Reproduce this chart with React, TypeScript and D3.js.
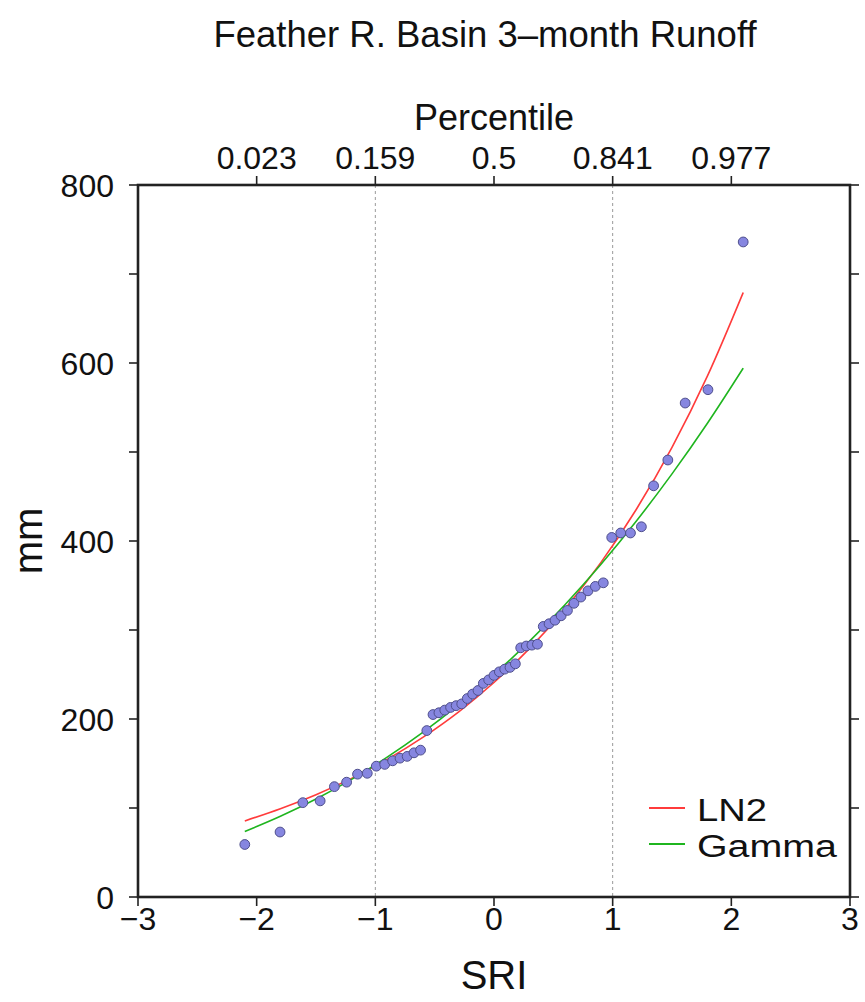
import React from "react";
import * as d3 from "d3";

// ---- data ----
const sri: number[] = [
  -2.1, -1.803, -1.611, -1.465, -1.345, -1.242, -1.15, -1.068, -0.992, -0.921,
  -0.854, -0.792, -0.732, -0.674, -0.619, -0.566, -0.514, -0.464, -0.415, -0.366,
  -0.319, -0.272, -0.225, -0.18, -0.135, -0.09, -0.045, 0, 0.045, 0.09,
  0.135, 0.18, 0.225, 0.272, 0.319, 0.366, 0.415, 0.464, 0.514, 0.566,
  0.619, 0.674, 0.732, 0.792, 0.854, 0.921, 0.992, 1.068, 1.15, 1.242,
  1.345, 1.465, 1.611, 1.803, 2.1,
];
const runoff: number[] = [
  59, 73, 106, 108, 124, 129, 138, 139, 147, 149,
  153, 156, 158, 162, 165, 187, 205, 207, 210, 213,
  215, 217, 223, 228, 232, 240, 244, 249, 253, 256,
  258, 262, 280, 282, 283, 284, 304, 307, 311, 316,
  322, 330, 337, 344, 349, 353, 404, 409, 409, 416,
  462, 491, 555, 570, 736,
];
const curveSri: number[] = [-2.1, -1.8, -1.5, -1.2, -0.9, -0.6, -0.3, 0, 0.3, 0.6, 0.9, 1.2, 1.5, 1.8, 2.1];
const ln2Values: number[] = [85.5, 99.2, 115.0, 133.3, 154.6, 179.3, 207.8, 241.0, 279.4, 324.0, 375.7, 435.7, 505.2, 585.8, 679.2];
const gammaValues: number[] = [73.6, 90.7, 110.1, 132.2, 157.1, 184.9, 215.8, 249.9, 287.5, 328.7, 373.6, 422.5, 475.4, 532.6, 594.2];

const xTicks: number[] = [-3, -2, -1, 0, 1, 2, 3];
const xTickLabels: string[] = ["\u22123", "\u22122", "\u22121", "0", "1", "2", "3"];
const yTicksMajor: number[] = [0, 200, 400, 600, 800];
const yTicksAll: number[] = [0, 100, 200, 300, 400, 500, 600, 700, 800];
const pctTicks: number[] = [-2, -1, 0, 1, 2];
const pctLabels: string[] = ["0.023", "0.159", "0.5", "0.841", "0.977"];
const gridLines: number[] = [-1, 1];

const seriesNames: string[] = ["LN2", "Gamma"];
const seriesColors: string[] = ["#ff3b3b", "#1fb51f"];
const legendWidths: number[] = [70, 140];

const FONT = "'Liberation Sans', Arial, Helvetica, sans-serif";

export default function App() {
  const W = 865, H = 1002;
  const left = 138, right = 850, top = 185, bottom = 897;
  const x = d3.scaleLinear().domain([-3, 3]).range([left, right]);
  const y = d3.scaleLinear().domain([0, 800]).range([bottom, top]);
  const tick = 9;

  const line = d3
    .line<[number, number]>()
    .x((d) => x(d[0]))
    .y((d) => y(d[1]))
    .curve(d3.curveMonotoneX);

  const ln2Path = line(curveSri.map((s, i) => [s, ln2Values[i]] as [number, number])) || "";
  const gammaPath = line(curveSri.map((s, i) => [s, gammaValues[i]] as [number, number])) || "";
  const paths = [ln2Path, gammaPath];

  return (
    <svg
      width={W}
      height={H}
      style={{ position: "absolute", left: 0, top: 0, background: "#fff" }}
      fontFamily={FONT}
    >
      <rect x={0} y={0} width={W} height={H} fill="#fff" />
      {/* title */}
      <text x={485} y={47} fontSize={36.5} textAnchor="middle" fill="#111">
        Feather R. Basin 3{"\u2013"}month Runoff
      </text>
      {/* top axis title */}
      <text x={494} y={130} fontSize={36} textAnchor="middle" fill="#111">
        Percentile
      </text>

      {/* dashed grid */}
      {gridLines.map((g) => (
        <line
          key={"g" + g}
          x1={x(g)}
          x2={x(g)}
          y1={top}
          y2={bottom}
          stroke="#9a9a9a"
          strokeWidth={1}
          strokeDasharray="3,3"
        />
      ))}

      {/* curves */}
      {paths.map((p, i) => (
        <path key={"c" + i} d={p} fill="none" stroke={seriesColors[i]} strokeWidth={1.6} />
      ))}

      {/* points */}
      {sri.map((s, i) => (
        <circle
          key={"p" + i}
          cx={x(s)}
          cy={y(runoff[i])}
          r={4.9}
          fill="#8686e0"
          stroke="#4f4f8c"
          strokeWidth={1}
        />
      ))}

      {/* frame */}
      <rect
        x={left}
        y={top}
        width={right - left}
        height={bottom - top}
        fill="none"
        stroke="#222"
        strokeWidth={2.6}
      />

      {/* bottom axis */}
      {xTicks.map((t, i) => (
        <g key={"xb" + t}>
          <line x1={x(t)} x2={x(t)} y1={bottom} y2={bottom + tick} stroke="#222" strokeWidth={1.6} />
          <text x={x(t)} y={930} fontSize={32} textAnchor="middle" fill="#111">
            {xTickLabels[i]}
          </text>
        </g>
      ))}
      <text x={494} y={989} fontSize={40} textAnchor="middle" fill="#111">
        SRI
      </text>

      {/* top axis */}
      {pctTicks.map((t, i) => (
        <g key={"xt" + t}>
          <line x1={x(t)} x2={x(t)} y1={top} y2={top - tick} stroke="#222" strokeWidth={1.6} />
          <text x={x(t)} y={169} fontSize={32} textAnchor="middle" fill="#111">
            {pctLabels[i]}
          </text>
        </g>
      ))}

      {/* left / right axes */}
      {yTicksAll.map((t) => (
        <g key={"yt" + t}>
          <line x1={left - tick} x2={left} y1={y(t)} y2={y(t)} stroke="#222" strokeWidth={1.6} />
          <line x1={right} x2={right + tick} y1={y(t)} y2={y(t)} stroke="#222" strokeWidth={1.6} />
        </g>
      ))}
      {yTicksMajor.map((t) => (
        <text key={"yl" + t} x={114} y={y(t) + 11.5} fontSize={32} textAnchor="end" fill="#111">
          {t}
        </text>
      ))}
      <text
        transform={`translate(42, ${(top + bottom) / 2}) rotate(-90)`}
        fontSize={40}
        textAnchor="middle"
        fill="#111"
      >
        mm
      </text>

      {/* legend */}
      {seriesNames.map((n, i) => (
        <g key={"lg" + n}>
          <line
            x1={649}
            x2={685}
            y1={808 + i * 36}
            y2={808 + i * 36}
            stroke={seriesColors[i]}
            strokeWidth={2.2}
          />
          <text
            x={697}
            y={821 + i * 36}
            fontSize={31}
            textLength={legendWidths[i]}
            lengthAdjust="spacingAndGlyphs"
            fill="#111"
          >
            {n}
          </text>
        </g>
      ))}
    </svg>
  );
}
